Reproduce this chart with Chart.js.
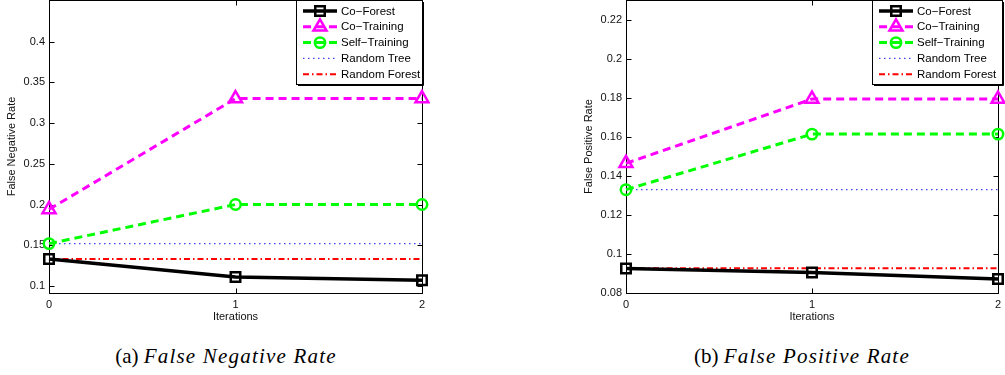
<!DOCTYPE html>
<html>
<head>
<meta charset="utf-8">
<script src="https://cdn.jsdelivr.net/npm/chart.js@4.4.0/dist/chart.umd.min.js"></script>
<style>
  body { margin: 0; width: 1005px; height: 375px; overflow: hidden; background: #fff; position: relative; }
  canvas { position: absolute; top: 0; }
  .cap { position: absolute; top: 346px; height: 20px; line-height: 20px; text-align: center; white-space: nowrap;
         font-family: "Liberation Serif", "DejaVu Serif", serif; font-size: 21px; color: #000; }
  .cap i { letter-spacing: 1.2px; }
</style>
</head>
<body>
<canvas id="fnr" width="430" height="330" style="left:0"></canvas>
<canvas id="fpr" width="429" height="330" style="left:576px"></canvas>
<div class="cap" style="left:106px; width:240px">(a) <i>False Negative Rate</i></div>
<div class="cap" style="left:682px; width:240px">(b) <i>False Positive Rate</i></div>
<script>
// iterations on the x axis
const iterations = ['0', '1', '2'];
const seriesNames = ['Co\u2212Forest', 'Co\u2212Training', 'Self\u2212Training', 'Random Tree', 'Random Forest'];

// (a) false negative rate
const fnrCoForest = [0.133, 0.111, 0.107];
const fnrCoTraining = [0.194, 0.330, 0.330];
const fnrSelfTraining = [0.152, 0.200, 0.200];
const fnrRandomTree = [0.152, 0.152, 0.152];
const fnrRandomForest = [0.133, 0.133, 0.133];
const fnrTicks = [0.1, 0.15, 0.2, 0.25, 0.3, 0.35, 0.4];

// (b) false positive rate
const fprCoForest = [0.0926, 0.0905, 0.0872];
const fprCoTraining = [0.1465, 0.1795, 0.1795];
const fprSelfTraining = [0.1330, 0.1615, 0.1615];
const fprRandomTree = [0.1330, 0.1330, 0.1330];
const fprRandomForest = [0.0927, 0.0927, 0.0927];
const fprTicks = [0.08, 0.1, 0.12, 0.14, 0.16, 0.18, 0.2, 0.22];

const sans = '"Liberation Sans", Arial, sans-serif';
const ink = '#111';

// line styles, matlab-ish
const styles = [
  { borderColor: '#000', borderWidth: 3.5, borderDash: [], pointStyle: 'rect', pointRadius: 6.7 },
  { borderColor: '#ff00ff', borderWidth: 3, borderDash: [8, 5], pointStyle: 'triangle', pointRadius: 7.5 },
  { borderColor: '#00ff00', borderWidth: 3, borderDash: [8, 5], pointStyle: 'circle', pointRadius: 5.2 },
  { borderColor: '#4040ff', borderWidth: 1.3, borderDash: [1.5, 3.5], pointStyle: false, pointRadius: 0 },
  { borderColor: '#ff0000', borderWidth: 2, borderDash: [6, 3, 1.5, 3], pointStyle: false, pointRadius: 0 }
];

function drawMarker(ctx, style, x, y, r) {
  ctx.beginPath();
  if (style === 'rect') {
    const s = r * Math.SQRT1_2;
    ctx.rect(x - s, y - s, 2 * s, 2 * s);
  } else if (style === 'triangle') {
    let a = 0;
    ctx.moveTo(x + Math.sin(a) * r, y - Math.cos(a) * r);
    a += 2 * Math.PI / 3;
    ctx.lineTo(x + Math.sin(a) * r, y - Math.cos(a) * r);
    a += 2 * Math.PI / 3;
    ctx.lineTo(x + Math.sin(a) * r, y - Math.cos(a) * r);
    ctx.closePath();
  } else if (style === 'circle') {
    ctx.arc(x, y, r, 0, Math.PI * 2);
  }
  ctx.stroke();
}

// box frame, inward ticks on all four sides, and the legend box
const matlabAxes = {
  id: 'matlabAxes',
  beforeDatasetsDraw(chart) {
    const { ctx, chartArea: a, scales: { x, y } } = chart;
    const l = Math.round(a.left) + 0.5, r = Math.round(a.right) + 0.5;
    const t = Math.round(a.top) + 0.5, b = Math.round(a.bottom) + 0.5;
    ctx.save();
    ctx.strokeStyle = '#000';
    ctx.lineWidth = 1;
    ctx.strokeRect(l, t, r - l, b - t);
    ctx.beginPath();
    x.ticks.forEach((tk, i) => {
      const px = Math.round(x.getPixelForTick(i)) + 0.5;
      ctx.moveTo(px, b); ctx.lineTo(px, b - 5);
      ctx.moveTo(px, t); ctx.lineTo(px, t + 5);
    });
    y.ticks.forEach(tk => {
      const py = Math.round(y.getPixelForValue(tk.value)) + 0.5;
      ctx.moveTo(l, py); ctx.lineTo(l + 5, py);
      ctx.moveTo(r, py); ctx.lineTo(r - 5, py);
    });
    ctx.stroke();
    ctx.restore();
  },
  afterDraw(chart, args, opts) {
    const { ctx } = chart;
    const bx = opts.x, bw = opts.w, bh = opts.h;
    ctx.save();
    ctx.fillStyle = '#fff';
    ctx.fillRect(bx, 0, bw, bh);
    ctx.strokeStyle = '#000';
    ctx.lineWidth = 1;
    ctx.strokeRect(bx + 0.5, 0.5, bw, bh);
    ctx.beginPath();
    ctx.moveTo(bx + 2, bh + 1.5); ctx.lineTo(bx + bw + 1.5, bh + 1.5); ctx.lineTo(bx + bw + 1.5, 2);
    ctx.stroke();
    ctx.font = '11.5px ' + sans;
    ctx.textBaseline = 'middle';
    ctx.textAlign = 'left';
    chart.data.datasets.forEach((ds, i) => {
      const yy = 11 + i * 15.8;
      const x0 = bx + 7, x1 = bx + 41;
      ctx.strokeStyle = ds.borderColor;
      ctx.lineWidth = ds.borderWidth;
      ctx.setLineDash(ds.borderDash);
      ctx.beginPath();
      ctx.moveTo(x0, yy); ctx.lineTo(x1, yy);
      ctx.stroke();
      ctx.setLineDash([]);
      if (ds.pointStyle) {
        ctx.lineWidth = ds.pointBorderWidth;
        drawMarker(ctx, ds.pointStyle, (x0 + x1) / 2, yy, ds.pointRadius);
      }
      ctx.fillStyle = '#000';
      ctx.fillText(ds.label, bx + 45, yy + 0.5);
    });
    ctx.restore();
  }
};

function makeChart(id, values, yMin, yMax, yTicks, yTitle, yWidth, titlePad, rightPad, legendW) {
  const datasets = values.map((data, i) => ({
    label: seriesNames[i],
    data: data,
    borderColor: styles[i].borderColor,
    borderWidth: styles[i].borderWidth,
    borderDash: styles[i].borderDash,
    pointStyle: styles[i].pointStyle,
    pointRadius: styles[i].pointRadius,
    pointBorderWidth: 2.5,
    pointBorderColor: styles[i].borderColor,
    pointBackgroundColor: 'rgba(0,0,0,0)',
    tension: 0,
    fill: false,
    clip: false
  }));
  return new Chart(document.getElementById(id), {
    type: 'line',
    data: { labels: iterations, datasets: datasets },
    plugins: [matlabAxes],
    options: {
      responsive: false,
      animation: false,
      devicePixelRatio: 1,
      events: [],
      layout: { autoPadding: false, padding: { top: 0, right: rightPad, bottom: 0, left: 0 } },
      plugins: {
        legend: { display: false },
        tooltip: { enabled: false },
        matlabAxes: { x: 296, w: legendW, h: 84 }
      },
      scales: {
        x: {
          type: 'category',
          offset: false,
          grid: { display: false, drawTicks: false },
          border: { display: false },
          ticks: { padding: 5, color: ink, font: { family: sans, size: 11 }, maxRotation: 0, autoSkip: false },
          title: { display: true, text: 'Iterations', color: ink, font: { family: sans, size: 11 }, padding: { top: 0, bottom: 6 } },
          afterFit(s) { s.height = 37; s.paddingLeft = 0; s.paddingRight = 0; }
        },
        y: {
          type: 'linear',
          min: yMin,
          max: yMax,
          bounds: 'data',
          afterBuildTicks(s) { s.ticks = yTicks.map(v => ({ value: v })); },
          grid: { display: false, drawTicks: false },
          border: { display: false },
          ticks: { padding: 4, color: ink, font: { family: sans, size: 11 }, autoSkip: false, callback: v => String(v) },
          title: { display: true, text: yTitle, color: ink, font: { family: sans, size: 11 }, padding: { top: titlePad, bottom: 0 } },
          afterFit(s) { s.width = yWidth; s.paddingTop = 0; s.paddingBottom = 0; }
        }
      }
    }
  });
}

makeChart('fnr', [fnrCoForest, fnrCoTraining, fnrSelfTraining, fnrRandomTree, fnrRandomForest],
  0.0914, 0.451, fnrTicks, 'False Negative Rate', 49, 5.4, 8, 126);
makeChart('fpr', [fprCoForest, fprCoTraining, fprSelfTraining, fprRandomTree, fprRandomForest],
  0.08, 0.2303, fprTicks, 'False Positive Rate', 50, 6.4, 7, 130);
</script>
</body>
</html>
